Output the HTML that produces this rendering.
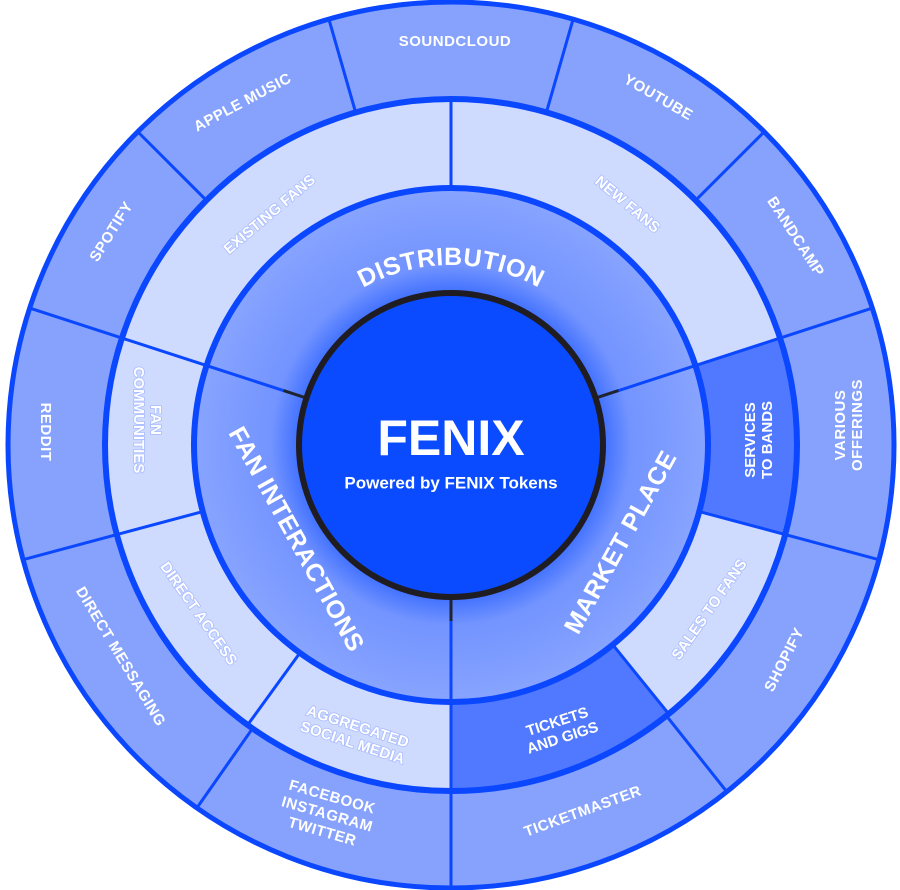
<!DOCTYPE html>
<html><head><meta charset="utf-8"><style>
html,body{margin:0;padding:0;background:#fff;width:900px;height:890px;overflow:hidden}
svg{display:block}
text{font-family:"Liberation Sans",sans-serif;font-weight:bold;fill:#fff;text-anchor:middle;dominant-baseline:middle}
.o{font-size:15px;letter-spacing:0.5px}
.m{font-size:15px;stroke:#a9bcff;stroke-width:1.6;paint-order:stroke;fill:#fff}
.d{font-size:15px}
.i{font-size:25px;letter-spacing:0.5px}
</style></head><body>
<svg id="s" width="900" height="890" viewBox="0 0 900 890">
<defs>
<radialGradient id="g" cx="451" cy="445" r="257" gradientUnits="userSpaceOnUse">
<stop offset="0.58" stop-color="#3a6cff"/>
<stop offset="0.70" stop-color="#7394ff"/>
<stop offset="1" stop-color="#88a4ff"/>
</radialGradient>
<path id="distArc" d="M 271 445 A 180 180 0 0 1 631 445"/>
</defs>
<circle cx="451" cy="445" r="443" fill="#86a2fd"/>
<circle cx="451" cy="445" r="346" fill="#cfdaff"/>
<g id="wedges"></g>
<circle cx="451" cy="445" r="257" fill="url(#g)"/>
<g id="lines"></g>
<circle cx="451" cy="445" r="152" fill="#0a4bff" stroke="#1f1c22" stroke-width="6"/>
<text x="451" y="442" style="font-size:50px">FENIX</text>
<text x="451" y="484" style="font-size:17px">Powered by FENIX Tokens</text>

<text class="o" x="455" y="42">SOUNDCLOUD</text>
<text class="o" transform="translate(658,98) rotate(30)">YOUTUBE</text>
<text class="o" transform="translate(795,237) rotate(57)">BANDCAMP</text>
<text class="o" transform="translate(849,425) rotate(-90)"><tspan x="0" dy="-8">VARIOUS</tspan><tspan x="0" dy="17">OFFERINGS</tspan></text>
<text class="o" transform="translate(785,660) rotate(-63)">SHOPIFY</text>
<text class="o" transform="translate(583,812) rotate(-20)">TICKETMASTER</text>
<text class="o" transform="translate(327,815) rotate(16)"><tspan x="0" dy="-18">FACEBOOK</tspan><tspan x="0" dy="18">INSTAGRAM</tspan><tspan x="0" dy="18">TWITTER</tspan></text>
<text class="o" transform="translate(120,657) rotate(59)">DIRECT MESSAGING</text>
<text class="o" transform="translate(45,432) rotate(90)">REDDIT</text>
<text class="o" transform="translate(112,232) rotate(-58)">SPOTIFY</text>
<text class="o" transform="translate(243,103) rotate(-28)">APPLE MUSIC</text>

<text class="m" transform="translate(270,215) rotate(-40)">EXISTING FANS</text>
<text class="m" transform="translate(627,205) rotate(40)">NEW FANS</text>
<text class="m" transform="translate(147,420) rotate(90)"><tspan x="0" dy="-8">FAN</tspan><tspan x="0" dy="17">COMMUNITIES</tspan></text>
<text class="m" transform="translate(198,614) rotate(55)">DIRECT ACCESS</text>
<text class="m" transform="translate(355,735) rotate(18)"><tspan x="0" dy="-8">AGGREGATED</tspan><tspan x="0" dy="17">SOCIAL MEDIA</tspan></text>
<text class="d" transform="translate(560,730) rotate(-18)"><tspan x="0" dy="-8">TICKETS</tspan><tspan x="0" dy="17">AND GIGS</tspan></text>
<text class="m" transform="translate(710,610) rotate(-55)">SALES TO FANS</text>
<text class="d" transform="translate(759,440) rotate(-90)"><tspan x="0" dy="-8">SERVICES</tspan><tspan x="0" dy="17">TO BANDS</tspan></text>

<text class="i" style="dominant-baseline:auto"><textPath href="#distArc" startOffset="50%">DISTRIBUTION</textPath></text>
<text class="i" transform="translate(295,540) rotate(61)">FAN INTERACTIONS</text>
<text class="i" transform="translate(622,543) rotate(-61)">MARKET PLACE</text>
</svg>
<script>
var cx=451,cy=445,NS="http://www.w3.org/2000/svg";
function pt(r,a){a=a*Math.PI/180;return [cx+r*Math.sin(a),cy-r*Math.cos(a)];}
function wedge(r1,r2,a1,a2,fill){
 var p1=pt(r2,a1),p2=pt(r2,a2),p3=pt(r1,a2),p4=pt(r1,a1);var lg=(a2-a1)>180?1:0;
 var d="M"+p1+" A"+r2+" "+r2+" 0 "+lg+" 1 "+p2+" L"+p3+" A"+r1+" "+r1+" 0 "+lg+" 0 "+p4+"Z";
 var e=document.createElementNS(NS,"path");e.setAttribute("d",d);e.setAttribute("fill",fill);
 document.getElementById("wedges").appendChild(e);}
function line(r1,r2,a,c,w){var p=pt(r1,a),q=pt(r2,a);var e=document.createElementNS(NS,"line");
 e.setAttribute("x1",p[0]);e.setAttribute("y1",p[1]);e.setAttribute("x2",q[0]);e.setAttribute("y2",q[1]);
 e.setAttribute("stroke",c);e.setAttribute("stroke-width",w);document.getElementById("lines").appendChild(e);}
function circ(r,w){var e=document.createElementNS(NS,"circle");e.setAttribute("cx",cx);e.setAttribute("cy",cy);e.setAttribute("r",r);
 e.setAttribute("fill","none");e.setAttribute("stroke","#0a47ff");e.setAttribute("stroke-width",w);document.getElementById("lines").appendChild(e);}
var MED="#5079ff",BL="#0a47ff";
wedge(257,346,72,105,MED);
wedge(257,346,141,180,MED);
[16,45,72,105,141.5,180,215,255,288,315,344].forEach(function(a){line(346,443,a,BL,3);});
[0,72,105,141,180,216,255,288].forEach(function(a){line(257,346,a,BL,3);});
[72,180,288].forEach(function(a){line(175,257,a,BL,3);line(152,176,a,"#1f2430",3);});
circ(257,6);circ(346,6);circ(443,5);
</script>
</body></html>
